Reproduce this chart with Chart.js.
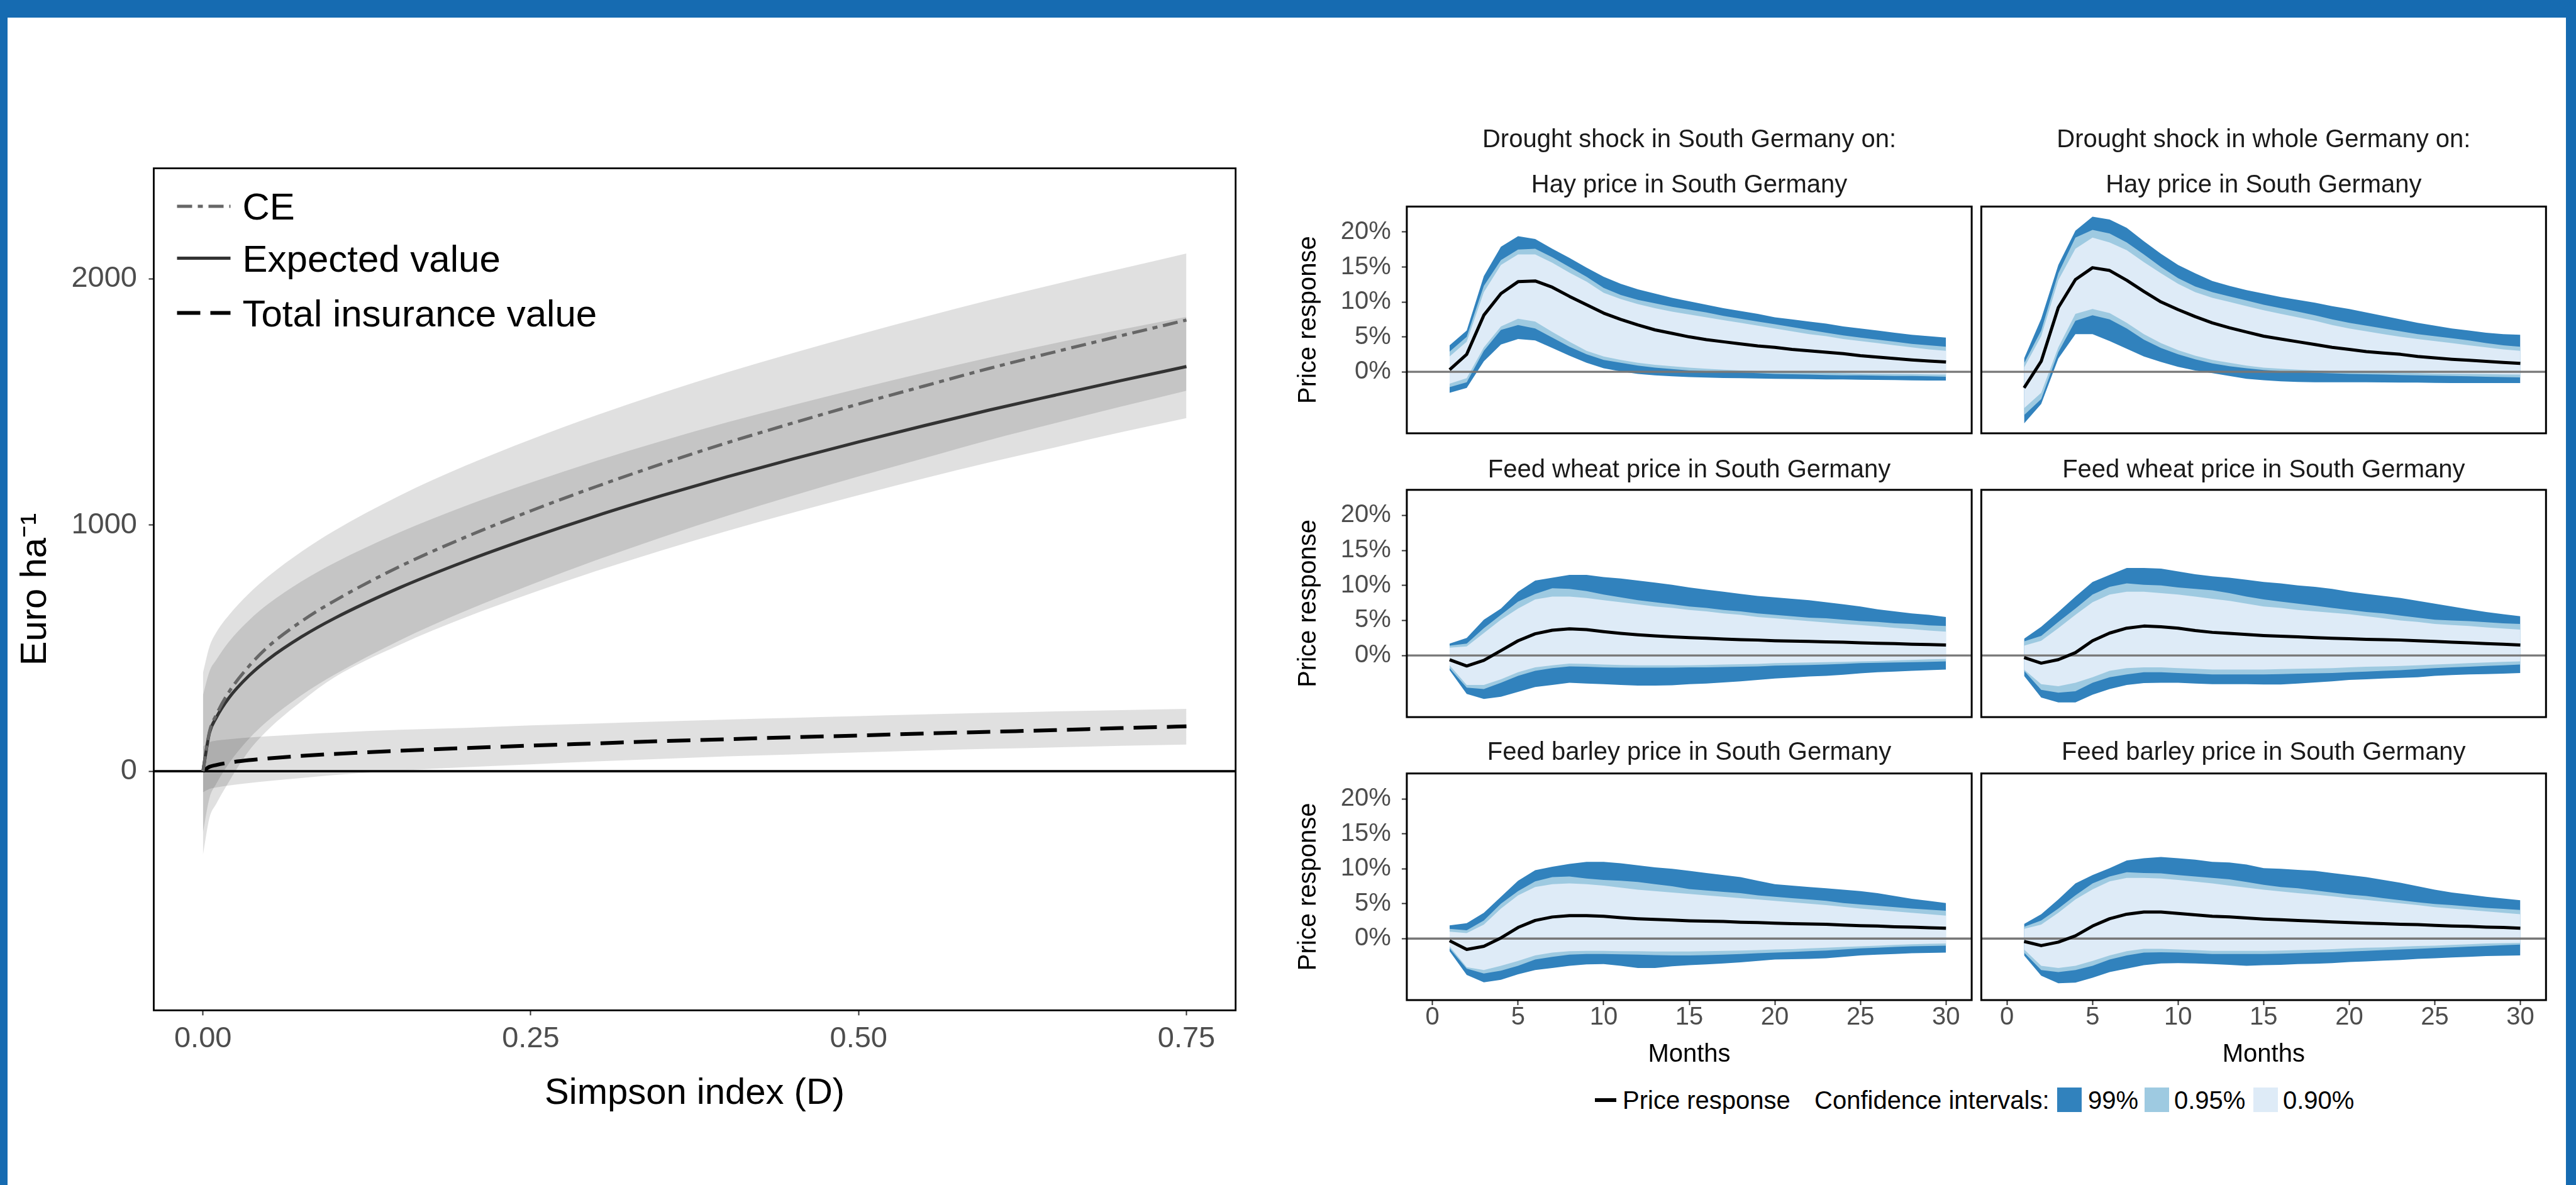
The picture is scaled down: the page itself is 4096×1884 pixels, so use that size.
<!DOCTYPE html>
<html>
<head>
<meta charset="utf-8">
<script src="https://cdn.jsdelivr.net/npm/chart.js@4.4.1/dist/chart.umd.min.js"></script>
<style>
  html, body { margin: 0; padding: 0; }
  body { width: 4096px; height: 1884px; background: #166bb1; position: relative; overflow: hidden;
         font-family: 'Liberation Sans', Arial, sans-serif; }
  #sheet { position: absolute; left: 12px; top: 28px; width: 4068px; height: 1856px; background: #fff; }
  canvas { position: absolute; }
  .lg { position: absolute; top: 1729px; height: 40px; line-height: 40px; font-size: 40px; color: #000; white-space: nowrap; }
  .sw { position: absolute; top: 1729px; width: 39px; height: 39px; }
</style>
</head>
<body>
<div id="sheet"></div>
<canvas id="left" width="2000" height="1856" style="left:12px; top:28px"></canvas>
<canvas id="f1" width="1113" height="520" style="left:2030px; top:180px"></canvas>
<canvas id="f2" width="917" height="520" style="left:3143px; top:180px"></canvas>
<canvas id="f3" width="1113" height="450" style="left:2030px; top:700px"></canvas>
<canvas id="f4" width="917" height="450" style="left:3143px; top:700px"></canvas>
<canvas id="f5" width="1113" height="560" style="left:2030px; top:1150px"></canvas>
<canvas id="f6" width="917" height="560" style="left:3143px; top:1150px"></canvas>

<div style="position:absolute; left:2536px; top:1746px; width:34px; height:6px; background:#000"></div>
<span class="lg" style="left:2580px">Price response</span>
<span class="lg" style="left:2885px">Confidence intervals:</span>
<div class="sw" style="left:3271px; background:#3182bd"></div>
<span class="lg" style="left:3320px">99%</span>
<div class="sw" style="left:3410px; background:#9ecae1"></div>
<span class="lg" style="left:3457px">0.95%</span>
<div class="sw" style="left:3583px; background:#deebf7"></div>
<span class="lg" style="left:3630px">0.90%</span>

<script>
// ---- left panel: values along the Simpson index
const simpsonX = [0, 0.005, 0.01, 0.02, 0.035, 0.05, 0.075, 0.1, 0.15, 0.2, 0.25, 0.3, 0.35, 0.4, 0.45, 0.5, 0.55, 0.6, 0.65, 0.7, 0.75];
const ceValue = [0, 161, 227, 323, 426, 507, 608, 691, 831, 950, 1057, 1156, 1248, 1334, 1414, 1491, 1564, 1636, 1703, 1768, 1832];
const ceUpper = [399, 506, 562, 635, 721, 792, 891, 976, 1119, 1240, 1347, 1445, 1536, 1620, 1698, 1773, 1844, 1913, 1978, 2040, 2102];
const ceLower = [-250, -109, -53, 33, 131, 207, 308, 391, 531, 650, 757, 857, 950, 1037, 1119, 1197, 1271, 1345, 1413, 1480, 1545];
const expectedValue = [0, 156, 216, 299, 387, 455, 545, 620, 745, 852, 948, 1037, 1119, 1196, 1268, 1337, 1403, 1467, 1527, 1586, 1643];
const expectedUpper = [308, 406, 451, 527, 612, 680, 770, 845, 970, 1077, 1172, 1260, 1341, 1417, 1487, 1554, 1618, 1680, 1738, 1793, 1845];
const expectedLower = [-341, -189, -134, -41, 82, 170, 283, 380, 513, 624, 722, 813, 897, 976, 1050, 1121, 1189, 1254, 1315, 1376, 1434];
const insuranceValue = [0, 18, 25, 35, 45, 52, 62, 70, 83, 94, 104, 113, 122, 130, 138, 145, 153, 160, 167, 175, 182];
const insuranceUpper = [100, 118, 124, 130, 137, 142, 150, 157, 168, 176, 186, 194, 202, 210, 217, 224, 231, 237, 243, 248, 253];
const insuranceLower = [-86, -72, -66, -58, -48, -40, -28, -16, 2, 16, 28, 40, 50, 60, 68, 76, 84, 91, 97, 103, 108];
const euroTicks = [0, 1000, 2000];
const simpsonTicks = [0, 0.25, 0.5, 0.75];
const simpsonTickLabels = ['0.00', '0.25', '0.50', '0.75'];

// ---- right panels: impulse responses by month (%)
const months = [1, 2, 3, 4, 5, 6, 7, 8, 9, 10, 11, 12, 13, 14, 15, 16, 17, 18, 19, 20, 21, 22, 23, 24, 25, 26, 27, 28, 29, 30];
const monthTicks = [0, 5, 10, 15, 20, 25, 30];
const pctTicks = [0, 5, 10, 15, 20];

const haySouthLine = [0.3, 2.5, 8.1, 11.2, 12.9, 13.0, 12.1, 10.8, 9.6, 8.4, 7.5, 6.7, 6.0, 5.5, 5.0, 4.6, 4.3, 4.0, 3.7, 3.5, 3.2, 3.0, 2.8, 2.6, 2.3, 2.1, 1.9, 1.7, 1.55, 1.4];
const haySouthHi99 = [3.8, 5.9, 13.7, 17.9, 19.4, 19.0, 17.6, 16.3, 14.9, 13.6, 12.6, 11.8, 11.2, 10.6, 10.1, 9.6, 9.1, 8.7, 8.3, 7.8, 7.5, 7.2, 6.9, 6.5, 6.2, 5.9, 5.6, 5.3, 5.1, 4.9];
const haySouthHi95 = [2.9, 5.0, 12.3, 16.0, 17.5, 17.6, 16.4, 15.0, 13.6, 12.0, 11.0, 10.3, 9.8, 9.3, 8.9, 8.5, 8.0, 7.6, 7.2, 6.8, 6.4, 6.0, 5.6, 5.2, 4.9, 4.6, 4.3, 4.0, 3.8, 3.6];
const haySouthHi90 = [2.2, 4.3, 11.4, 15.3, 16.8, 16.8, 15.6, 14.2, 12.9, 11.3, 10.4, 9.7, 9.1, 8.6, 8.2, 7.8, 7.4, 7.0, 6.6, 6.2, 5.8, 5.4, 5.1, 4.7, 4.4, 4.1, 3.8, 3.5, 3.2, 3.0];
const haySouthLo90 = [-1.7, -0.9, 3.5, 6.5, 7.6, 7.2, 5.7, 4.3, 3.0, 2.2, 1.7, 1.3, 1.0, 0.8, 0.6, 0.45, 0.3, 0.2, 0.1, 0.0, -0.05, -0.1, -0.15, -0.2, -0.25, -0.28, -0.3, -0.33, -0.36, -0.4];
const haySouthLo95 = [-2.2, -1.5, 3.0, 6.0, 6.7, 6.2, 4.9, 3.6, 2.5, 1.7, 1.3, 0.9, 0.6, 0.4, 0.2, 0.1, 0.0, -0.1, -0.2, -0.3, -0.35, -0.4, -0.45, -0.5, -0.5, -0.55, -0.6, -0.6, -0.65, -0.7];
const haySouthLo99 = [-3.0, -2.3, 1.5, 3.9, 4.7, 4.5, 3.4, 2.3, 1.3, 0.5, 0.05, -0.3, -0.5, -0.65, -0.75, -0.82, -0.88, -0.92, -0.96, -1.0, -1.02, -1.05, -1.08, -1.1, -1.13, -1.16, -1.19, -1.22, -1.25, -1.25];

const hayWholeLine = [-2.3, 1.5, 9.2, 13.2, 14.9, 14.5, 13.1, 11.5, 10.0, 8.9, 7.9, 7.0, 6.3, 5.7, 5.1, 4.7, 4.3, 3.9, 3.5, 3.2, 2.9, 2.7, 2.5, 2.2, 2.0, 1.8, 1.65, 1.5, 1.35, 1.2];
const hayWholeHi99 = [1.9, 7.6, 15.3, 20.2, 22.2, 21.8, 20.6, 18.7, 16.9, 15.3, 14.1, 13.0, 12.3, 11.7, 11.2, 10.7, 10.3, 9.9, 9.4, 9.0, 8.5, 8.0, 7.5, 7.0, 6.6, 6.2, 5.9, 5.6, 5.4, 5.3];
const hayWholeHi95 = [1.2, 5.9, 14.1, 19.2, 20.3, 19.8, 18.5, 16.8, 15.0, 13.4, 12.2, 11.4, 10.8, 10.2, 9.6, 9.1, 8.6, 8.1, 7.5, 7.0, 6.6, 6.2, 5.8, 5.4, 5.1, 4.8, 4.5, 4.1, 3.8, 3.6];
const hayWholeHi90 = [0.6, 5.1, 13.1, 17.6, 19.2, 18.5, 17.4, 15.7, 14.1, 12.6, 11.4, 10.6, 10.0, 9.4, 8.8, 8.3, 7.8, 7.3, 6.7, 6.2, 5.8, 5.4, 5.0, 4.7, 4.4, 4.1, 3.8, 3.5, 3.2, 3.0];
const hayWholeLo90 = [-5.2, -3.0, 3.5, 8.3, 9.0, 8.4, 7.0, 5.4, 4.1, 3.1, 2.3, 1.7, 1.3, 0.9, 0.6, 0.45, 0.3, 0.2, 0.1, 0.0, -0.05, -0.1, -0.15, -0.2, -0.25, -0.28, -0.3, -0.33, -0.36, -0.4];
const hayWholeLo95 = [-6.2, -3.9, 2.8, 7.3, 8.1, 7.5, 6.2, 4.6, 3.4, 2.5, 1.8, 1.2, 0.8, 0.5, 0.26, 0.1, -0.05, -0.15, -0.22, -0.3, -0.35, -0.4, -0.45, -0.5, -0.55, -0.6, -0.65, -0.7, -0.75, -0.8];
const hayWholeLo99 = [-7.4, -4.6, 1.9, 5.4, 5.4, 4.4, 3.3, 2.2, 1.4, 0.7, 0.2, -0.2, -0.6, -1.0, -1.2, -1.35, -1.45, -1.5, -1.5, -1.5, -1.5, -1.52, -1.55, -1.55, -1.58, -1.6, -1.6, -1.6, -1.6, -1.6];

const wheatSouthLine = [-0.6, -1.5, -0.7, 0.7, 2.1, 3.1, 3.6, 3.8, 3.7, 3.4, 3.15, 2.95, 2.8, 2.65, 2.55, 2.45, 2.35, 2.25, 2.2, 2.1, 2.05, 2.0, 1.95, 1.9, 1.8, 1.75, 1.7, 1.6, 1.55, 1.5];
const wheatSouthHi99 = [1.7, 2.5, 5.1, 6.7, 9.1, 10.7, 11.1, 11.5, 11.5, 11.2, 11.0, 10.7, 10.4, 10.1, 9.7, 9.4, 9.1, 8.8, 8.5, 8.3, 8.1, 7.9, 7.6, 7.3, 7.0, 6.6, 6.3, 6.0, 5.8, 5.5];
const wheatSouthHi95 = [1.4, 1.7, 3.9, 5.8, 7.7, 8.8, 9.6, 9.5, 9.2, 8.7, 8.3, 7.9, 7.6, 7.3, 7.0, 6.8, 6.5, 6.3, 6.0, 5.8, 5.6, 5.4, 5.3, 5.1, 4.9, 4.8, 4.6, 4.5, 4.3, 4.2];
const wheatSouthHi90 = [1.1, 1.3, 3.2, 5.1, 6.7, 8.0, 8.4, 8.4, 8.2, 7.9, 7.6, 7.3, 7.0, 6.8, 6.5, 6.3, 6.0, 5.8, 5.5, 5.3, 5.1, 4.9, 4.7, 4.5, 4.35, 4.15, 3.95, 3.75, 3.55, 3.4];
const wheatSouthLo90 = [-1.4, -4.2, -4.2, -3.4, -2.4, -1.7, -1.4, -1.15, -1.2, -1.3, -1.35, -1.4, -1.4, -1.4, -1.4, -1.35, -1.3, -1.25, -1.2, -1.1, -1.05, -1.0, -0.95, -0.9, -0.85, -0.8, -0.7, -0.65, -0.55, -0.5];
const wheatSouthLo95 = [-1.8, -4.6, -4.8, -3.9, -2.9, -2.2, -1.8, -1.55, -1.6, -1.7, -1.75, -1.75, -1.75, -1.75, -1.7, -1.7, -1.65, -1.6, -1.55, -1.45, -1.4, -1.35, -1.3, -1.2, -1.1, -1.05, -1.0, -0.95, -0.9, -0.85];
const wheatSouthLo99 = [-2.1, -5.5, -6.2, -5.9, -5.2, -4.5, -4.2, -3.9, -4.0, -4.1, -4.2, -4.3, -4.3, -4.25, -4.1, -4.0, -3.85, -3.7, -3.5, -3.3, -3.15, -3.0, -2.9, -2.75, -2.55, -2.4, -2.3, -2.2, -2.1, -2.0];

const wheatWholeLine = [-0.3, -1.1, -0.6, 0.4, 2.1, 3.2, 3.9, 4.2, 4.1, 3.9, 3.55, 3.3, 3.15, 3.0, 2.85, 2.75, 2.65, 2.55, 2.45, 2.4, 2.3, 2.25, 2.2, 2.1, 2.0, 1.9, 1.8, 1.7, 1.6, 1.5];
const wheatWholeHi99 = [2.4, 4.1, 6.2, 8.4, 10.5, 11.5, 12.5, 12.5, 12.4, 12.0, 11.6, 11.3, 11.1, 10.8, 10.5, 10.3, 10.0, 9.8, 9.5, 9.1, 8.8, 8.5, 8.2, 7.8, 7.4, 7.0, 6.6, 6.2, 5.9, 5.6];
const wheatWholeHi95 = [2.0, 2.8, 4.8, 6.7, 8.7, 9.8, 10.3, 10.1, 10.0, 9.7, 9.5, 9.3, 8.9, 8.4, 8.0, 7.7, 7.4, 7.1, 6.8, 6.5, 6.2, 6.0, 5.7, 5.4, 5.1, 5.0, 4.9, 4.75, 4.6, 4.5];
const wheatWholeHi90 = [1.4, 2.1, 3.9, 5.8, 7.6, 8.7, 9.1, 9.1, 8.9, 8.7, 8.4, 8.1, 7.8, 7.4, 7.0, 6.8, 6.5, 6.3, 6.1, 5.9, 5.6, 5.3, 5.0, 4.8, 4.5, 4.35, 4.2, 4.0, 3.85, 3.7];
const wheatWholeLo90 = [-2.0, -4.1, -4.4, -3.9, -3.1, -2.2, -1.8, -1.7, -1.7, -1.8, -1.9, -2.0, -2.0, -2.0, -2.0, -1.95, -1.9, -1.85, -1.8, -1.7, -1.6, -1.55, -1.5, -1.4, -1.3, -1.2, -1.1, -1.0, -0.9, -0.85];
const wheatWholeLo95 = [-2.2, -4.9, -5.3, -5.1, -3.9, -3.1, -2.7, -2.4, -2.4, -2.5, -2.6, -2.7, -2.7, -2.7, -2.7, -2.65, -2.6, -2.55, -2.5, -2.4, -2.3, -2.2, -2.1, -1.95, -1.8, -1.7, -1.6, -1.5, -1.4, -1.3];
const wheatWholeLo99 = [-2.9, -6.0, -6.7, -6.7, -5.6, -4.8, -4.2, -3.95, -3.9, -3.9, -4.0, -4.1, -4.1, -4.1, -4.15, -4.15, -4.0, -3.85, -3.7, -3.5, -3.4, -3.3, -3.2, -3.1, -2.9, -2.8, -2.7, -2.65, -2.6, -2.5];

const barleySouthLine = [-0.3, -1.55, -1.1, 0.1, 1.6, 2.6, 3.1, 3.3, 3.3, 3.2, 3.0, 2.85, 2.75, 2.65, 2.55, 2.5, 2.45, 2.35, 2.3, 2.2, 2.15, 2.1, 2.05, 1.95, 1.85, 1.8, 1.7, 1.65, 1.55, 1.5];
const barleySouthHi99 = [1.9, 2.2, 3.7, 6.0, 8.3, 9.8, 10.3, 10.7, 11.0, 11.0, 10.8, 10.5, 10.2, 10.0, 9.7, 9.4, 9.1, 8.8, 8.3, 7.8, 7.6, 7.4, 7.2, 7.0, 6.8, 6.5, 6.1, 5.7, 5.4, 5.1];
const barleySouthHi95 = [1.4, 1.2, 2.6, 5.0, 6.8, 8.2, 8.8, 8.9, 8.6, 8.4, 8.3, 8.1, 7.8, 7.5, 7.1, 6.9, 6.7, 6.5, 6.2, 6.0, 5.8, 5.6, 5.4, 5.1, 4.9, 4.7, 4.5, 4.3, 4.15, 4.0];
const barleySouthHi90 = [1.0, 0.8, 2.0, 4.3, 6.2, 7.4, 7.8, 7.9, 7.8, 7.6, 7.3, 7.0, 6.8, 6.6, 6.4, 6.2, 6.0, 5.8, 5.6, 5.4, 5.2, 5.0, 4.8, 4.55, 4.3, 4.1, 3.9, 3.7, 3.5, 3.3];
const barleySouthLo90 = [-1.1, -4.1, -4.5, -3.9, -3.2, -2.4, -2.0, -1.8, -1.75, -1.75, -1.8, -1.8, -1.85, -1.85, -1.85, -1.8, -1.75, -1.7, -1.65, -1.55, -1.5, -1.4, -1.3, -1.2, -1.1, -1.0, -0.9, -0.8, -0.75, -0.7];
const barleySouthLo95 = [-1.4, -4.3, -5.0, -4.6, -3.9, -3.0, -2.6, -2.3, -2.2, -2.2, -2.25, -2.3, -2.35, -2.4, -2.4, -2.35, -2.3, -2.2, -2.1, -2.0, -1.9, -1.8, -1.7, -1.55, -1.4, -1.3, -1.2, -1.1, -1.05, -1.0];
const barleySouthLo99 = [-1.8, -5.2, -6.25, -5.9, -5.1, -4.5, -4.2, -3.9, -3.7, -3.65, -3.9, -4.2, -4.2, -3.95, -3.8, -3.7, -3.55, -3.4, -3.2, -3.0, -2.95, -2.9, -2.8, -2.6, -2.4, -2.3, -2.2, -2.1, -2.05, -2.0];

const barleyWholeLine = [-0.4, -1.0, -0.5, 0.4, 1.8, 2.85, 3.5, 3.8, 3.8, 3.6, 3.4, 3.2, 3.1, 2.95, 2.8, 2.7, 2.6, 2.5, 2.4, 2.3, 2.2, 2.15, 2.05, 2.0, 1.9, 1.8, 1.75, 1.65, 1.6, 1.5];
const barleyWholeHi99 = [2.1, 3.5, 5.6, 7.9, 9.1, 10.1, 11.2, 11.5, 11.7, 11.5, 11.3, 11.0, 10.9, 10.6, 10.1, 10.0, 9.85, 9.7, 9.4, 9.1, 8.8, 8.4, 8.0, 7.5, 7.0, 6.6, 6.3, 6.0, 5.75, 5.5];
const barleyWholeHi95 = [1.7, 2.6, 4.3, 6.2, 7.9, 8.9, 9.5, 9.4, 9.35, 9.1, 8.9, 8.7, 8.5, 8.1, 7.7, 7.4, 7.2, 6.9, 6.6, 6.3, 6.1, 5.8, 5.5, 5.2, 4.95, 4.8, 4.6, 4.4, 4.25, 4.1];
const barleyWholeHi90 = [1.4, 2.0, 3.7, 5.6, 7.05, 8.2, 8.7, 8.7, 8.6, 8.4, 8.15, 7.9, 7.6, 7.3, 7.0, 6.75, 6.5, 6.3, 6.05, 5.8, 5.55, 5.3, 5.05, 4.8, 4.5, 4.3, 4.1, 3.9, 3.7, 3.5];
const barleyWholeLo90 = [-1.55, -3.9, -4.2, -3.9, -3.2, -2.4, -1.8, -1.45, -1.45, -1.55, -1.65, -1.75, -1.75, -1.75, -1.75, -1.7, -1.65, -1.6, -1.5, -1.4, -1.3, -1.25, -1.15, -1.05, -1.0, -0.9, -0.8, -0.7, -0.65, -0.6];
const barleyWholeLo95 = [-2.0, -4.5, -4.8, -4.5, -3.9, -3.0, -2.4, -2.0, -1.95, -2.0, -2.1, -2.2, -2.2, -2.2, -2.2, -2.15, -2.1, -2.0, -1.95, -1.85, -1.75, -1.65, -1.55, -1.45, -1.35, -1.25, -1.15, -1.05, -0.95, -0.85];
const barleyWholeLo99 = [-2.4, -5.3, -6.4, -6.3, -5.6, -4.8, -4.3, -3.8, -3.55, -3.5, -3.55, -3.65, -3.75, -3.9, -3.8, -3.75, -3.65, -3.6, -3.5, -3.35, -3.25, -3.15, -3.05, -2.9, -2.8, -2.7, -2.6, -2.5, -2.45, -2.4];

const FONT = "'Liberation Sans', Arial, sans-serif";
Chart.defaults.font.family = FONT;
Chart.defaults.color = '#4d4d4d';

// keep the panel size fixed: no extra room for labels at the axis ends
function noEndPadding(s) { s.paddingTop = 0; s.paddingBottom = 0; s.paddingLeft = 0; s.paddingRight = 0; }

// zero line under the lines, black frame on top
const panelFrame = {
  id: 'panelFrame',
  beforeDatasetDraw(chart, args, opts) {
    if (args.index !== opts.zeroBefore) return;
    const { ctx, chartArea: a, scales: { y } } = chart;
    const yy = y.getPixelForValue(0);
    ctx.save();
    ctx.strokeStyle = opts.zeroColor;
    ctx.lineWidth = opts.zeroWidth;
    ctx.beginPath(); ctx.moveTo(a.left, yy); ctx.lineTo(a.right, yy); ctx.stroke();
    ctx.restore();
  },
  afterDraw(chart, args, opts) {
    const { ctx, chartArea: a } = chart;
    ctx.save();
    ctx.strokeStyle = '#000';
    ctx.lineWidth = opts.frameWidth;
    ctx.strokeRect(a.left, a.top, a.right - a.left, a.bottom - a.top);
    ctx.restore();
  }
};

// facet strip titles above the panel
const stripTitles = {
  id: 'stripTitles',
  afterDraw(chart, args, opts) {
    const { ctx, chartArea: a } = chart;
    ctx.save();
    ctx.fillStyle = '#1a1a1a';
    ctx.textAlign = 'center';
    ctx.textBaseline = 'middle';
    ctx.font = '40px ' + FONT;
    (opts.lines || []).forEach(l => ctx.fillText(l.text, (a.left + a.right) / 2, a.top - l.offset));
    ctx.restore();
  }
};

// legend inside the left panel
const insideLegend = {
  id: 'insideLegend',
  afterDraw(chart, args, opts) {
    if (!opts.items) return;
    const { ctx, chartArea: a } = chart;
    ctx.save();
    ctx.font = '60px ' + FONT;
    ctx.fillStyle = '#000';
    ctx.textBaseline = 'alphabetic';
    opts.items.forEach((idx, i) => {
      const ds = chart.data.datasets[idx];
      const y = a.top + opts.rows[i];
      ctx.strokeStyle = ds.borderColor;
      ctx.lineWidth = ds.borderWidth;
      ctx.setLineDash(ds.borderDash || []);
      ctx.beginPath(); ctx.moveTo(a.left + 37, y); ctx.lineTo(a.left + 122, y); ctx.stroke();
      ctx.setLineDash([]);
      ctx.fillText(ds.label, a.left + 141, y + 21);
    });
    ctx.restore();
  }
};

// ---- left chart
const pts = (xs, ys) => xs.map((x, i) => ({ x: x, y: ys[i] }));
const ribbon = 'rgba(0,0,0,0.12)';
function ribbonSet(upper, lower) {
  return [
    { data: pts(simpsonX, upper), borderWidth: 0, pointRadius: 0, backgroundColor: ribbon, fill: '+1', order: 10, cubicInterpolationMode: 'monotone' },
    { data: pts(simpsonX, lower), borderWidth: 0, pointRadius: 0, fill: false, order: 10, cubicInterpolationMode: 'monotone' }
  ];
}

new Chart(document.getElementById('left'), {
  type: 'line',
  data: {
    datasets: [
      ...ribbonSet(ceUpper, ceLower),
      ...ribbonSet(expectedUpper, expectedLower),
      ...ribbonSet(insuranceUpper, insuranceLower),
      { label: 'CE', data: pts(simpsonX, ceValue), borderColor: '#666666', borderWidth: 5, borderDash: [24, 9, 8, 9], pointRadius: 0, fill: false, order: 1, cubicInterpolationMode: 'monotone' },
      { label: 'Expected value', data: pts(simpsonX, expectedValue), borderColor: '#333333', borderWidth: 5, pointRadius: 0, fill: false, order: 2, cubicInterpolationMode: 'monotone' },
      { label: 'Total insurance value', data: pts(simpsonX, insuranceValue), borderColor: '#000000', borderWidth: 6, borderDash: [37, 16], pointRadius: 0, fill: false, order: 3, cubicInterpolationMode: 'monotone' }
    ]
  },
  options: {
    responsive: false, animation: false, devicePixelRatio: 1,
    layout: { padding: { left: 0, top: 239.6, right: 47.3, bottom: 110.6 } },
    plugins: {
      legend: { display: false }, tooltip: { enabled: false },
      panelFrame: { zeroBefore: 8, zeroColor: '#000', zeroWidth: 3.6, frameWidth: 2.8 },
      insideLegend: { items: [6, 7, 8], rows: [60.5, 143, 230] }
    },
    scales: {
      x: {
        type: 'linear', min: -0.0375, max: 0.7875,
        afterBuildTicks: s => { s.ticks = simpsonTicks.map(v => ({ value: v })); },
        afterFit: s => { s.height = 167.1; noEndPadding(s); },
        grid: { drawOnChartArea: false, tickLength: 8, tickColor: '#333', tickWidth: 2 },
        border: { display: false },
        ticks: { callback: (v, i) => simpsonTickLabels[i], font: { size: 47, lineHeight: 1 }, padding: 14, maxRotation: 0, autoSkip: false },
        title: { display: true, text: 'Simpson index (D)', color: '#000', font: { size: 58 }, padding: 0 }
      },
      y: {
        min: -971, max: 2448,
        afterBuildTicks: s => { s.ticks = euroTicks.map(v => ({ value: v })); },
        afterFit: s => { s.width = 232.5; noEndPadding(s); },
        grid: { drawOnChartArea: false, tickLength: 8, tickColor: '#333', tickWidth: 2 },
        border: { display: false },
        ticks: { callback: v => String(v), font: { size: 47 }, padding: 18.5 },
        title: { display: true, text: 'Euro ha\u207B\u00B9', color: '#000', font: { size: 58 }, padding: { top: 10, bottom: 0 } }
      }
    }
  },
  plugins: [panelFrame, insideLegend]
});

// ---- facet charts
const blue99 = '#3182bd', blue95 = '#9ecae1', blue90 = '#deebf7';
function band(arr, color, ord, fill) {
  return { data: pts(months, arr), borderWidth: 0, pointRadius: 0, backgroundColor: color, fill: fill, order: ord };
}
function facetChart(id, s, cfg) {
  new Chart(document.getElementById(id), {
    type: 'line',
    data: {
      datasets: [
        band(s.hi99, blue99, 5, '+1'), band(s.lo99, blue99, 5, false),
        band(s.hi95, blue95, 4, '+1'), band(s.lo95, blue95, 4, false),
        band(s.hi90, blue90, 3, '+1'), band(s.lo90, blue90, 3, false),
        { data: pts(months, s.line), borderColor: '#000', borderWidth: 5, borderJoinStyle: 'round', pointRadius: 0, fill: false, order: 0 }
      ]
    },
    options: {
      responsive: false, animation: false, devicePixelRatio: 1,
      layout: { padding: cfg.pad },
      plugins: {
        legend: { display: false }, tooltip: { enabled: false },
        panelFrame: { zeroBefore: 6, zeroColor: '#777777', zeroWidth: 3.4, frameWidth: 3 },
        stripTitles: { lines: cfg.titles }
      },
      scales: {
        x: {
          type: 'linear', min: -1.5, max: 31.5, display: cfg.showX,
          afterBuildTicks: s => { s.ticks = monthTicks.map(v => ({ value: v })); },
          afterFit: s => { if (cfg.showX) s.height = 111; noEndPadding(s); },
          grid: { drawOnChartArea: false, tickLength: 8, tickColor: '#333', tickWidth: 2 },
          border: { display: false },
          ticks: { font: { size: 40, lineHeight: 1 }, padding: 0, maxRotation: 0, autoSkip: false },
          title: { display: true, text: 'Months', color: '#000', font: { size: 40 }, padding: 0 }
        },
        y: {
          min: -8.8, max: 23.65, display: cfg.showY,
          afterBuildTicks: s => { s.ticks = pctTicks.map(v => ({ value: v })); },
          afterFit: s => { if (cfg.showY) s.width = 206.9; noEndPadding(s); },
          grid: { drawOnChartArea: false, tickLength: 8, tickColor: '#333', tickWidth: 2 },
          border: { display: false },
          ticks: { callback: v => v + '%', font: { size: 40 }, padding: 17 },
          title: { display: true, text: 'Price response', color: '#000', font: { size: 40 }, padding: { top: 27, bottom: 0 } }
        }
      }
    },
    plugins: [panelFrame, stripTitles]
  });
}

const col1 = { left: 0, right: 7.9 }, col2 = { left: 7.4, right: 11.7 };
facetChart('f1',
  { line: haySouthLine, hi99: haySouthHi99, hi95: haySouthHi95, hi90: haySouthHi90, lo90: haySouthLo90, lo95: haySouthLo95, lo99: haySouthLo99 },
  { pad: { ...col1, top: 148.4, bottom: 11.1 }, showX: false, showY: true,
    titles: [{ text: 'Drought shock in South Germany on:', offset: 105.5 }, { text: 'Hay price in South Germany', offset: 33 }] });
facetChart('f2',
  { line: hayWholeLine, hi99: hayWholeHi99, hi95: hayWholeHi95, hi90: hayWholeHi90, lo90: hayWholeLo90, lo95: hayWholeLo95, lo99: hayWholeLo99 },
  { pad: { ...col2, top: 148.4, bottom: 11.1 }, showX: false, showY: false,
    titles: [{ text: 'Drought shock in whole Germany on:', offset: 105.5 }, { text: 'Hay price in South Germany', offset: 33 }] });
facetChart('f3',
  { line: wheatSouthLine, hi99: wheatSouthHi99, hi95: wheatSouthHi95, hi90: wheatSouthHi90, lo90: wheatSouthLo90, lo95: wheatSouthLo95, lo99: wheatSouthLo99 },
  { pad: { ...col1, top: 78.8, bottom: 9.9 }, showX: false, showY: true,
    titles: [{ text: 'Feed wheat price in South Germany', offset: 31 }] });
facetChart('f4',
  { line: wheatWholeLine, hi99: wheatWholeHi99, hi95: wheatWholeHi95, hi90: wheatWholeHi90, lo90: wheatWholeLo90, lo95: wheatWholeLo95, lo99: wheatWholeLo99 },
  { pad: { ...col2, top: 78.8, bottom: 9.9 }, showX: false, showY: false,
    titles: [{ text: 'Feed wheat price in South Germany', offset: 31 }] });
facetChart('f5',
  { line: barleySouthLine, hi99: barleySouthHi99, hi95: barleySouthHi95, hi90: barleySouthHi90, lo90: barleySouthLo90, lo95: barleySouthLo95, lo99: barleySouthLo99 },
  { pad: { ...col1, top: 79.7, bottom: 9 }, showX: true, showY: true,
    titles: [{ text: 'Feed barley price in South Germany', offset: 33 }] });
facetChart('f6',
  { line: barleyWholeLine, hi99: barleyWholeHi99, hi95: barleyWholeHi95, hi90: barleyWholeHi90, lo90: barleyWholeLo90, lo95: barleyWholeLo95, lo99: barleyWholeLo99 },
  { pad: { ...col2, top: 79.7, bottom: 9 }, showX: true, showY: false,
    titles: [{ text: 'Feed barley price in South Germany', offset: 33 }] });
</script>
</body>
</html>
